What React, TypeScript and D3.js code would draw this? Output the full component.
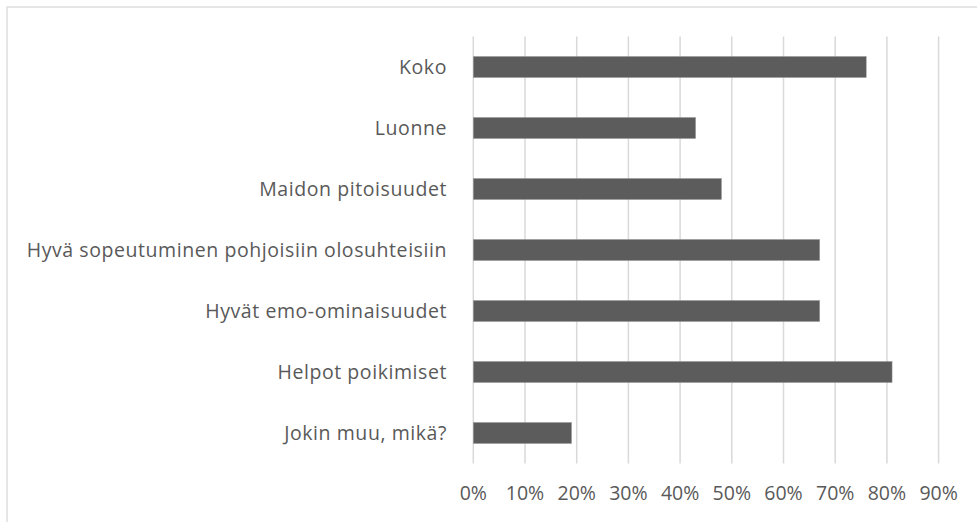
import React from "react";
import * as d3 from "d3";

const categories = [
  "Koko",
  "Luonne",
  "Maidon pitoisuudet",
  "Hyvä sopeutuminen pohjoisiin olosuhteisiin",
  "Hyvät emo-ominaisuudet",
  "Helpot poikimiset",
  "Jokin muu, mikä?",
];
const values = [0.76, 0.43, 0.48, 0.67, 0.67, 0.81, 0.19];
const ticks = [0, 0.1, 0.2, 0.3, 0.4, 0.5, 0.6, 0.7, 0.8, 0.9];

const W = 977;
const H = 522;
const left = 473.3;
const right = 938.6;
const top = 36.5;
const bottom = 463.5;
const FONT = "'Open Sans', 'Noto Sans', sans-serif";
const TEXT = "#595959";

export default function App() {
  const x = d3.scaleLinear().domain([0, 0.9]).range([left, right]);
  const y = d3
    .scaleBand<string>()
    .domain(categories)
    .range([top, bottom])
    .paddingInner(0.655)
    .paddingOuter(0.3275);
  return (
    <svg
      width={W}
      height={H}
      style={{ position: "absolute", left: 0, top: 0, background: "#fff" }}
    >
      <rect x={7} y={7} width={W + 10} height={H + 10} fill="#fff" stroke="#d9d9d9" strokeWidth={1.3} />
      {ticks.map((t) => (
        <line key={t} x1={x(t)} x2={x(t)} y1={top} y2={bottom} stroke="#d9d9d9" strokeWidth={1.5} />
      ))}
      {categories.map((c, i) => (
        <rect
          key={c}
          x={x(0)}
          y={y(c)}
          width={x(values[i]) - x(0)}
          height={y.bandwidth()}
          fill="#5c5c5c"
          stroke="#9a9a9a"
          strokeWidth={0.5}
        />
      ))}
      {categories.map((c) => (
        <text
          key={c}
          x={447}
          y={(y(c) as number) + y.bandwidth() / 2}
          dy="0.35em"
          textAnchor="end"
          fontFamily={FONT}
          fontSize={19.5}
          letterSpacing={0.57}
          fill={TEXT}
        >
          {c}
        </text>
      ))}
      {ticks.map((t) => (
        <text
          key={t}
          x={x(t)}
          y={493}
          dy="0.35em"
          textAnchor="middle"
          fontFamily={FONT}
          fontSize={19.5}
          fill={TEXT}
        >
          {d3.format(".0%")(t)}
        </text>
      ))}
    </svg>
  );
}
